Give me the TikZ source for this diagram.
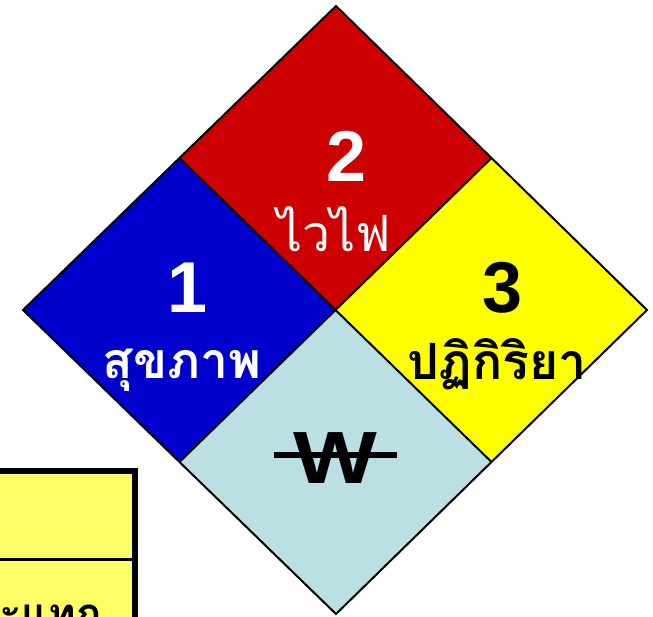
\documentclass[tikz,border=0pt]{standalone}
\usepackage{fontspec}
\usetikzlibrary{calc}
\setmainfont{Liberation Sans}
\newfontfamily\thaifont[Script=Thai]{Loma}
\definecolor{nfred}{HTML}{CC0000}
\definecolor{nfblue}{HTML}{0000CC}
\definecolor{nfyellow}{HTML}{FFFF00}
\definecolor{nfcyan}{HTML}{BBE0E3}
\definecolor{tblyellow}{HTML}{FFFF66}
\tikzset{
  quad/.style={draw=black, line width=2pt, line join=miter},
  digit/.style={font=\fontsize{72}{76}\selectfont\bfseries, inner sep=0pt},
  thai/.style={font=\thaifont\fontsize{48}{52}\selectfont\bfseries, inner sep=0pt},
}
\begin{document}
\begin{tikzpicture}[x=1pt,y=-1pt]
\useasboundingbox (0,0) rectangle (653,616);
\clip (0,0) rectangle (653,616);
\fill[white] (0,0) rectangle (653,616);
% table
\draw[line width=6pt, fill=tblyellow] (-30,471) rectangle (135,660);
\draw[line width=3pt] (-30,559.5) -- (135,559.5);
\node[thai, font=\thaifont\fontsize{42}{46}\selectfont\bfseries, anchor=base west, text=black] (tbltext) at (-1,628) {ะแทก};
% diamond
\coordinate (T) at (336,6);
\coordinate (L) at (23,310);
\coordinate (R) at (647,310);
\coordinate (B) at (336,614);
\coordinate (C) at (336,310);
\coordinate (TL) at ($(T)!0.5!(L)$);
\coordinate (TR) at ($(T)!0.5!(R)$);
\coordinate (BL) at ($(B)!0.5!(L)$);
\coordinate (BR) at ($(B)!0.5!(R)$);
\fill[nfred] (T) -- (TR) -- (C) -- (TL) -- cycle;
\fill[nfblue] (L) -- (TL) -- (C) -- (BL) -- cycle;
\fill[nfyellow] (R) -- (TR) -- (C) -- (BR) -- cycle;
\fill[nfcyan] (B) -- (BL) -- (C) -- (BR) -- cycle;
\draw[quad] (T) -- (R) -- (B) -- (L) -- cycle;
\draw[quad] (TL) -- (BR);
\draw[quad] (TR) -- (BL);
% texts
\node[digit, text=white] (n2) at (346.5,156) {2};
\node[thai, font=\thaifont\fontsize{50}{54}\selectfont, text=white] (t2) at (334,229) {ไวไฟ};
\node[digit, text=white] (n1) at (188,288) {1};
\node[thai, font=\thaifont\fontsize{50}{54}\selectfont\bfseries, text=white] (t1) at (182,370) {สุขภาพ};
\node[digit, text=black] (n3) at (503,288) {3};
\node[thai, font=\thaifont\fontsize{50}{54}\selectfont\bfseries, text=black] (t3) at (497,364) {ปฏิกิริยา};
\node[digit, font=\fontsize{74}{78}\selectfont\bfseries, text=black] (w) at (335,458.5) {\scalebox{1.2}[1]{W}};
\draw[line width=5.7pt] (274,455) -- (397,455);
\end{tikzpicture}
\end{document}
